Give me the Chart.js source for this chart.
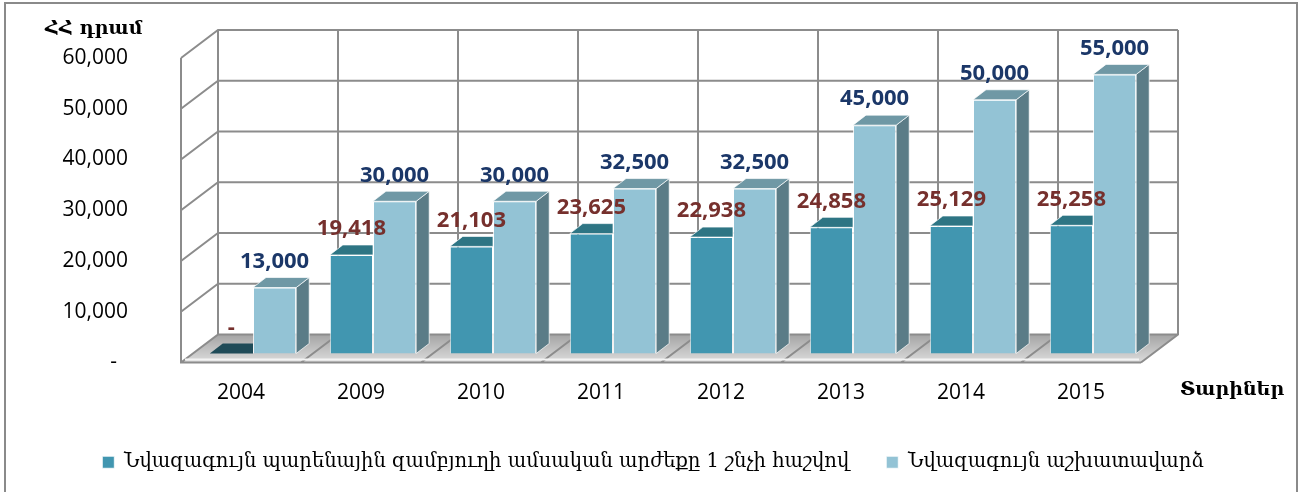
<!DOCTYPE html>
<html>
<head>
<meta charset="utf-8">
<script src="https://cdn.jsdelivr.net/npm/chart.js@4.4.0/dist/chart.umd.min.js"></script>
<style>
  html, body { margin: 0; padding: 0; background: #fff; }
  #wrap { width: 1306px; height: 492px; }
</style>
</head>
<body>
<div id="wrap"><canvas id="c" width="1306" height="492"></canvas></div>
<script>
const years = ['2004', '2009', '2010', '2011', '2012', '2013', '2014', '2015']
const basketValues = [0, 19418, 21103, 23625, 22938, 24858, 25129, 25258]
const minWageValues = [13000, 30000, 30000, 32500, 32500, 45000, 50000, 55000]
const yTicks = [0, 10000, 20000, 30000, 40000, 50000, 60000]
const seriesNames = [
    'Նվազագույն պարենային զամբյուղի ամսական արժեքը 1 շնչի հաշվով',
    'Նվազագույն աշխատավարձ'
]
const yAxisName = 'ՀՀ դրամ'
const xAxisName = 'Տարիներ'

// 3d offsets (front plane -> back wall, bars, bar depth)
const WALL_DX = 37, WALL_DY = 28
const BAR_DX = 12, BAR_DY = 9
const FACE_DX = 13, FACE_DY = 10

const fmt = v => (v === 0 ? '-' : v.toLocaleString('en-US'))

const poly = (ctx, pts, fill, stroke) => {
    ctx.beginPath()
    ctx.moveTo(pts[0][0], pts[0][1])
    for (let i = 1; i < pts.length; i++) ctx.lineTo(pts[i][0], pts[i][1])
    ctx.closePath()
    if (fill) { ctx.fillStyle = fill; ctx.fill() }
    if (stroke) { ctx.strokeStyle = stroke; ctx.lineWidth = 1; ctx.stroke() }
}

const walls = {
    id: 'walls',
    beforeDatasetsDraw(chart) {
        const { ctx, chartArea: a, scales: { y } } = chart
        ctx.save()
        // outer frame
        ctx.strokeStyle = '#8a8a8a'
        ctx.lineWidth = 2
        ctx.strokeRect(5, 3, 1292, 520)

        // floor
        const fb = y.getPixelForValue(0)
        const g = ctx.createLinearGradient(0, fb - WALL_DY, 0, fb)
        g.addColorStop(0, '#a4a4a4')
        g.addColorStop(1, '#dcdcdc')
        poly(ctx, [[a.left, fb], [a.right, fb], [a.right + WALL_DX, fb - WALL_DY], [a.left + WALL_DX, fb - WALL_DY]], g, null)

        ctx.strokeStyle = '#8c8c8c'
        ctx.lineWidth = 2
        ctx.beginPath()
        for (const v of yTicks) {
            const py = y.getPixelForValue(v)
            ctx.moveTo(a.left, py)
            ctx.lineTo(a.left + WALL_DX, py - WALL_DY)
            ctx.lineTo(a.right + WALL_DX, py - WALL_DY)
        }
        // category boundaries on back wall and floor
        const n = years.length
        const topY = y.getPixelForValue(yTicks[yTicks.length - 1])
        for (let i = 0; i <= n; i++) {
            const px = a.left + (i * (a.right - a.left)) / n
            ctx.moveTo(px + WALL_DX, topY - WALL_DY)
            ctx.lineTo(px + WALL_DX, fb - WALL_DY)
            ctx.lineTo(px, fb)
        }
        ctx.moveTo(a.left, topY)
        ctx.lineTo(a.left, fb)
        ctx.lineTo(a.right, fb)
        ctx.stroke()
        // light front lip of the floor
        ctx.strokeStyle = '#f4f4f4'
        ctx.lineWidth = 2
        ctx.beginPath()
        ctx.moveTo(a.left + 4, fb - 3)
        ctx.lineTo(a.right - 2, fb - 3)
        ctx.stroke()
        ctx.restore()
    },
    beforeDatasetDraw(chart) {
        chart.ctx.save()
        chart.ctx.translate(BAR_DX, -BAR_DY)
    },
    afterDatasetDraw(chart, args) {
        const { ctx } = chart
        const { meta, index } = args
        const values = chart.data.datasets[index].data
        meta.data.forEach((el, i) => {
            const { x: cx, y: top, base, width: w } = el.getProps(['x', 'y', 'base', 'width'], true)
            const xl = cx - w / 2, xr = cx + w / 2
            if (index === 1) {
                poly(ctx, [[xr, top], [xr + FACE_DX, top - FACE_DY], [xr + FACE_DX, base - FACE_DY], [xr, base]], '#5b7c87', 'rgba(255,255,255,0.7)')
                poly(ctx, [[xl, top], [xr, top], [xr + FACE_DX, top - FACE_DY], [xl + FACE_DX, top - FACE_DY]], '#6f98a5', 'rgba(255,255,255,0.7)')
            } else {
                // only the part left of the neighbouring (taller) bar is visible
                const c = values[i] === 0 ? '#1f4b58' : '#2e7584'
                poly(ctx, [[xl, top], [xr, top], [xr, top - FACE_DY], [xl + FACE_DX, top - FACE_DY]], c, values[i] === 0 ? null : 'rgba(255,255,255,0.7)')
            }
        })
        ctx.restore()
    },
    afterDatasetsDraw(chart) {
        const { ctx } = chart
        ctx.save()
        ctx.font = 'bold 22px "Open Sans"'
        ctx.textAlign = 'center'
        ctx.textBaseline = 'middle'
        const colors = ['#76302d', '#1b3768']
        chart.data.datasets.forEach((ds, di) => {
            chart.getDatasetMeta(di).data.forEach((el, i) => {
                const { x: cx, y: top } = el.getProps(['x', 'y'], true)
                ctx.fillStyle = colors[di]
                ctx.fillText(fmt(ds.data[i]), cx + BAR_DX, top - BAR_DY - 26)
            })
        })
        ctx.fillStyle = '#000'
        ctx.font = 'bold 19px "DejaVu Serif"'
        ctx.textAlign = 'left'
        ctx.fillText(yAxisName, 45, 29)
        ctx.fillText(xAxisName, 1180, 390)
        ctx.restore()
    }
}

new Chart(document.getElementById('c'), {
    type: 'bar',
    data: {
        labels: years,
        datasets: [
            {
                label: seriesNames[0],
                data: basketValues,
                backgroundColor: '#4196b0',
                borderColor: 'rgba(255,255,255,0.8)',
                borderWidth: 1,
                clip: false
            },
            {
                label: seriesNames[1],
                data: minWageValues,
                backgroundColor: '#93c3d5',
                borderColor: 'rgba(255,255,255,0.8)',
                borderWidth: 1,
                clip: false
            }
        ]
    },
    options: {
        responsive: false,
        animation: false,
        devicePixelRatio: 1,
        datasets: { bar: { barPercentage: 1, categoryPercentage: 0.72 } },
        layout: { padding: { top: 58, right: 0, left: 0, bottom: 10 } },
        scales: {
            x: {
                grid: { display: false, drawTicks: false },
                border: { display: false },
                ticks: { padding: 18, color: '#000', font: { family: 'Open Sans', size: 21 } },
                afterFit(s) { s.height = 53 }
            },
            y: {
                min: 0,
                max: 60000,
                grid: { display: false, drawTicks: false },
                border: { display: false },
                ticks: {
                    stepSize: 10000,
                    padding: 53,
                    color: '#000',
                    font: { family: 'Open Sans', size: 21 },
                    callback: v => (v === 0 ? '-  ' : v.toLocaleString('en-US'))
                },
                afterFit(s) {
                    s.width = 181
                    s.paddingTop = 0
                    s.paddingBottom = 0
                }
            },
            // empty right axis only reserves the room on the right
            yRight: {
                position: 'right',
                min: 0,
                max: 1,
                grid: { display: false, drawTicks: false },
                border: { display: false },
                ticks: { display: false },
                afterFit(s) {
                    s.width = 165
                    s.paddingTop = 0
                    s.paddingBottom = 0
                }
            }
        },
        plugins: {
            legend: {
                position: 'bottom',
                labels: {
                    boxWidth: 12,
                    boxHeight: 12,
                    padding: 37,
                    color: '#000',
                    font: { family: 'DejaVu Serif', size: 19.5 }
                }
            },
            tooltip: { enabled: false }
        }
    },
    plugins: [walls]
})
</script>
</body>
</html>
